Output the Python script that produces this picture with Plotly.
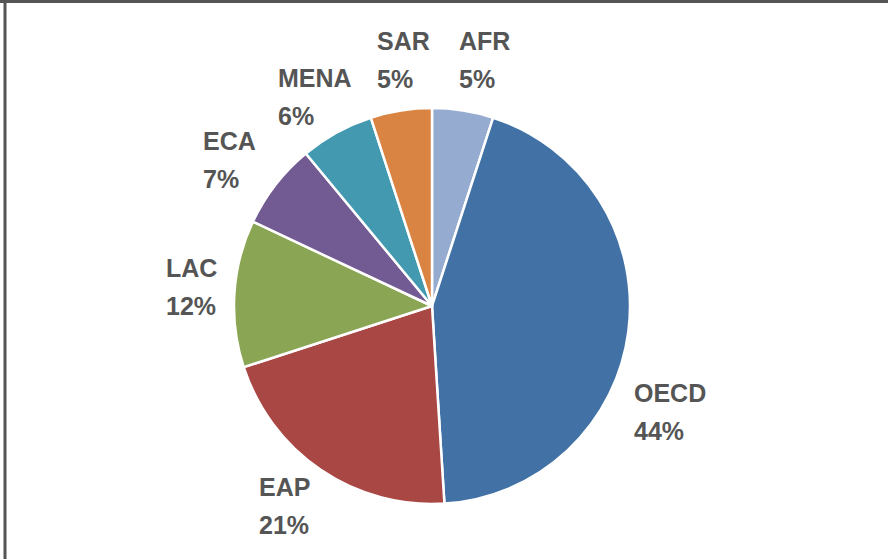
import plotly.graph_objects as go

# ---- data ----
regions = ["AFR", "OECD", "EAP", "LAC", "ECA", "MENA", "SAR"]
shares = [5, 44, 21, 12, 7, 6, 5]
colors = ["#95ABCF", "#4272A5", "#A84744", "#8AA553", "#725A92", "#4299B0", "#DA8443"]

# ---- layout / style ----
W, H = 888, 559
CX, CY, R = 432, 306, 198          # pie centre and radius in pixels
TEXT_COLOR = "#555555"
FONT = "Liberation Sans, Arial, Helvetica, sans-serif"
FONT_SIZE = 25
LINE_GAP = 38
# label block: left x and vertical centre (pixels), as placed in the reference
LABEL_BOX = {
    "AFR": (459, 60), "SAR": (377, 60), "MENA": (278, 97), "ECA": (203, 160),
    "LAC": (166, 287), "EAP": (259, 506), "OECD": (634, 412),
}

fig = go.Figure(go.Pie(
    labels=regions,
    values=shares,
    marker=dict(colors=colors, line=dict(color="white", width=2.5)),
    sort=False,
    direction="clockwise",
    rotation=0,
    textinfo="none",
    hoverinfo="label+percent",
    showlegend=False,
    domain=dict(x=[(CX - R) / W, (CX + R) / W], y=[(H - CY - R) / H, (H - CY + R) / H]),
))

total = sum(shares)
annotations = []
for name, val in zip(regions, shares):
    lx, ly = LABEL_BOX[name]
    pct = f"{round(100 * val / total)}%"
    for txt, yy in ((name, ly - LINE_GAP / 2), (pct, ly + LINE_GAP / 2)):
        annotations.append(dict(
            x=lx / W, y=1 - yy / H, xref="paper", yref="paper",
            text=f"<b>{txt}</b>", showarrow=False,
            xanchor="left", yanchor="middle",
            borderpad=0, borderwidth=0,
            font=dict(family=FONT, size=FONT_SIZE, color=TEXT_COLOR),
        ))

fig.update_layout(
    width=W, height=H,
    margin=dict(l=0, r=0, t=0, b=0),
    paper_bgcolor="white", plot_bgcolor="white",
    annotations=annotations,
    shapes=[
        dict(type="line", xref="paper", yref="paper", x0=0, x1=1, y0=1 - 1.5 / H, y1=1 - 1.5 / H,
             line=dict(color="#555555", width=3)),
        dict(type="line", xref="paper", yref="paper", x0=5 / W, x1=5 / W, y0=0, y1=1,
             line=dict(color="#555555", width=3)),
    ],
)

fig.write_html(
    "out.html",
    config={"displayModeBar": False},
    post_script="document.body.style.margin='0';document.body.style.overflow='hidden';",
)
